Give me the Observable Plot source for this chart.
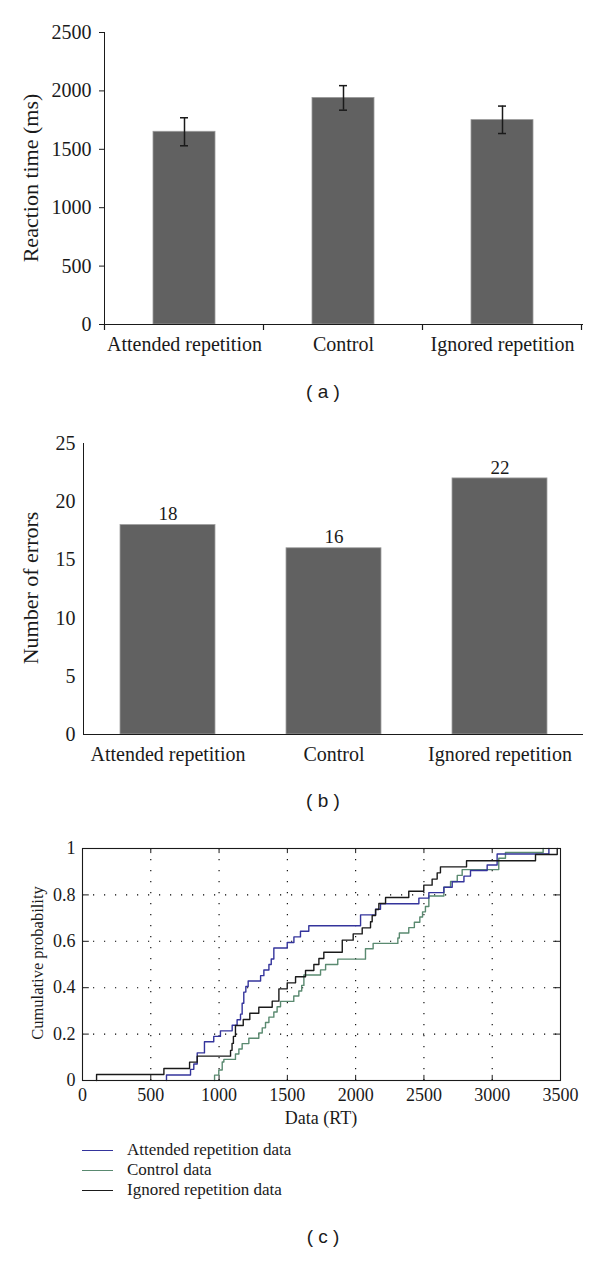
<!DOCTYPE html>
<html>
<head>
<meta charset="utf-8">
<script src="https://cdn.jsdelivr.net/npm/d3@7"></script>
<script src="https://cdn.jsdelivr.net/npm/@observablehq/plot@0.6"></script>
<style>
  html, body { margin: 0; padding: 0; background: #fff; }
  #root { position: relative; width: 600px; height: 1276px; background: #fff; color: #1a1a1a; font-family: "Liberation Serif", "DejaVu Serif", serif; }
  .rot { position: absolute; white-space: nowrap; transform: translate(-50%, -50%) rotate(-90deg); }
  .cap { position: absolute; transform: translate(-50%, -50%); font-family: "Liberation Sans", Arial, sans-serif; font-size: 19px; white-space: pre; }
  .leg { position: absolute; left: 82px; font-size: 17px; display: flex; align-items: center; height: 20px; }
  .leg span.sw { display: inline-block; width: 31px; height: 0; border-top: 1.4px solid; margin-right: 14px; }
</style>
</head>
<body>
<div id="root"></div>
<script>
// ---------- data ----------
const categories = ["Attended repetition", "Control", "Ignored repetition"];
const rtMean = [1650, 1940, 1750];
const rtLow  = [1530, 1835, 1635];
const rtHigh = [1770, 2045, 1870];
const rtTicks = [0, 500, 1000, 1500, 2000, 2500];

const errorCounts = [18, 16, 22];
const errTicks = [0, 5, 10, 15, 20, 25];

const cdfXTicks = [0, 500, 1000, 1500, 2000, 2500, 3000, 3500];
const cdfYTicks = [0, 0.2, 0.4, 0.6, 0.8, 1];
const seriesNames = ["Attended repetition data", "Control data", "Ignored repetition data"];
const seriesColors = ["#34349c", "#5a8a70", "#1a1a1a"];

// step points (RT, cumulative probability)
const attendedX = [615, 791, 815, 840, 893, 961, 1010, 1096, 1132, 1157, 1169, 1181, 1196, 1213, 1304, 1328, 1365, 1382, 1401, 1499, 1548, 1596, 1657, 2036, 2146, 2182, 2463, 2536, 2646, 2707, 2793, 2841, 2963, 3036, 3415];
const attendedY = [0.024, 0.048, 0.071, 0.119, 0.167, 0.19, 0.214, 0.238, 0.262, 0.286, 0.333, 0.381, 0.405, 0.429, 0.452, 0.476, 0.5, 0.524, 0.571, 0.595, 0.619, 0.643, 0.667, 0.714, 0.738, 0.762, 0.786, 0.81, 0.833, 0.857, 0.881, 0.905, 0.929, 0.976, 1.0];

const controlX = [967, 998, 1023, 1035, 1120, 1145, 1169, 1218, 1291, 1316, 1340, 1365, 1401, 1425, 1450, 1547, 1584, 1605, 1621, 1743, 1780, 1869, 2072, 2128, 2309, 2320, 2389, 2430, 2470, 2490, 2511, 2536, 2646, 2695, 2744, 2780, 3048, 3097, 3373];
const controlY = [0.023, 0.045, 0.08, 0.091, 0.114, 0.136, 0.159, 0.182, 0.205, 0.227, 0.25, 0.273, 0.295, 0.318, 0.341, 0.364, 0.386, 0.41, 0.455, 0.477, 0.5, 0.523, 0.568, 0.591, 0.614, 0.636, 0.659, 0.682, 0.705, 0.727, 0.75, 0.795, 0.833, 0.858, 0.884, 0.909, 0.958, 0.983, 1.0];

const ignoredX = [103, 596, 784, 840, 1084, 1095, 1105, 1120, 1177, 1225, 1291, 1389, 1438, 1499, 1560, 1633, 1694, 1731, 1767, 1902, 1982, 2048, 2109, 2121, 2146, 2170, 2219, 2389, 2499, 2560, 2597, 2621, 2812, 3317, 3476];
const ignoredY = [0.026, 0.052, 0.079, 0.105, 0.13, 0.16, 0.19, 0.237, 0.263, 0.29, 0.316, 0.342, 0.395, 0.421, 0.447, 0.474, 0.5, 0.526, 0.553, 0.605, 0.632, 0.658, 0.684, 0.711, 0.737, 0.763, 0.789, 0.816, 0.842, 0.868, 0.895, 0.921, 0.947, 0.974, 1.0];

// ---------- helpers ----------
const root = document.getElementById("root");
function place(el, top) { el.style.position = "absolute"; el.style.left = "0px"; el.style.top = top + "px"; root.appendChild(el); return el; }
function addDiv(cls, html, css) { const d = document.createElement("div"); d.className = cls; d.innerHTML = html; Object.assign(d.style, css); root.appendChild(d); return d; }

const barFill = "#616161";
const ink = "#1a1a1a";

// ---------- panel (a) ----------
const rtTable = categories.map((c, i) => ({cat: c, mean: rtMean[i], lo: rtLow[i], hi: rtHigh[i]}));
const chartA = Plot.plot({
  width: 600, height: 372,
  marginTop: 32, marginBottom: 48, marginLeft: 104, marginRight: 17,
  style: {fontFamily: "Liberation Serif, serif", fontSize: "20px", color: ink, background: "white", overflow: "visible"},
  x: {type: "band", domain: categories, paddingInner: 0.61, paddingOuter: 0.305, tickSize: 0, tickPadding: 12, label: null},
  y: {domain: [0, 2500], ticks: rtTicks, tickSize: 5, tickPadding: 8, line: true, label: null, tickFormat: d => String(d)},
  marks: [
    Plot.barY(rtTable, {x: "cat", y: "mean", fill: barFill, stroke: "#9a9a9a", strokeWidth: 0.8}),
    Plot.ruleX(rtTable, {x: "cat", y1: "lo", y2: "hi", stroke: ink, strokeWidth: 1.5}),
    Plot.tickY(rtTable, {x: "cat", y: "lo", stroke: ink, strokeWidth: 1.5, insetLeft: 27, insetRight: 27}),
    Plot.tickY(rtTable, {x: "cat", y: "hi", stroke: ink, strokeWidth: 1.5, insetLeft: 27, insetRight: 27}),
    Plot.ruleY([0], {stroke: ink, strokeWidth: 1.2})
  ]
});
place(chartA, 0);
// category boundary ticks below the x axis, from the band scale
{
  const sx = chartA.scale("x"), sy = chartA.scale("y");
  const y0 = sy.apply(0);
  const bounds = categories.map(c => sx.apply(c) + sx.bandwidth / 2 - sx.step / 2);
  bounds.push(bounds[bounds.length - 1] + sx.step);
  d3.select(chartA).append("g").selectAll("line").data(bounds).join("line")
    .attr("x1", d => d).attr("x2", d => d).attr("y1", y0).attr("y2", y0 + 6)
    .attr("stroke", ink).attr("stroke-width", 1.2);
}
addDiv("rot", "Reaction time (ms)", {left: "31px", top: "178px", fontSize: "22px"});
addDiv("cap", "( a )", {left: "323px", top: "392px"});

// ---------- panel (b) ----------
const errTable = categories.map((c, i) => ({cat: c, n: errorCounts[i]}));
const chartB = Plot.plot({
  width: 600, height: 370,
  marginTop: 23, marginBottom: 56, marginLeft: 83, marginRight: 17,
  style: {fontFamily: "Liberation Serif, serif", fontSize: "20px", color: ink, background: "white", overflow: "visible"},
  x: {type: "band", domain: categories, paddingInner: 0.43, paddingOuter: 0.215, tickSize: 0, tickPadding: 12, label: null},
  y: {domain: [0, 25], ticks: errTicks, tickSize: 0, tickPadding: 8, line: true, label: null},
  marks: [
    Plot.barY(errTable, {x: "cat", y: "n", fill: barFill, stroke: "#a0a0a0", strokeWidth: 0.8}),
    Plot.text(errTable, {x: "cat", y: "n", text: d => String(d.n), dy: -11, fontSize: 19, fill: ink}),
    Plot.ruleY([0], {stroke: ink, strokeWidth: 1.2})
  ]
});
place(chartB, 420);
addDiv("rot", "Number of errors", {left: "31px", top: "588px", fontSize: "22px"});
addDiv("cap", "( b )", {left: "323px", top: "801px"});

// ---------- panel (c) ----------
const cdfTable = [];
[[attendedX, attendedY], [controlX, controlY], [ignoredX, ignoredY]].forEach(([xs, ys], k) => {
  cdfTable.push({s: seriesNames[k], rt: xs[0], p: 0});
  xs.forEach((x, i) => cdfTable.push({s: seriesNames[k], rt: x, p: ys[i]}));
});
const drawOrder = [seriesNames[1], seriesNames[0], seriesNames[2]];
const innerX = cdfXTicks.slice(1, -1), innerY = cdfYTicks.slice(1, -1);
const chartC = Plot.plot({
  width: 600, height: 300,
  marginTop: 18, marginBottom: 50, marginLeft: 82, marginRight: 40,
  style: {fontFamily: "Liberation Serif, serif", fontSize: "18px", color: ink, background: "white", overflow: "visible"},
  x: {domain: [0, 3500], ticks: cdfXTicks, tickSize: 0, tickPadding: 8, label: null, tickFormat: d => String(d)},
  y: {domain: [0, 1], ticks: cdfYTicks, tickSize: 0, tickPadding: 7, label: null, tickFormat: d => String(d)},
  color: {domain: seriesNames, range: seriesColors},
  marks: [
    Plot.ruleX(innerX, {x: d => d, stroke: "#000", strokeWidth: 1.1, strokeDasharray: "1.2,9.8"}),
    Plot.ruleY(innerY, {y: d => d, stroke: "#000", strokeWidth: 1.1, strokeDasharray: "1.2,9.8"}),
    Plot.ruleX(innerX, {x: d => d, y1: 0, y2: 0.022, stroke: ink}),
    Plot.ruleX(innerX, {x: d => d, y1: 0.978, y2: 1, stroke: ink}),
    Plot.ruleY(innerY, {y: d => d, x1: 0, x2: 50, stroke: ink}),
    Plot.ruleY(innerY, {y: d => d, x1: 3450, x2: 3500, stroke: ink}),
    ...drawOrder.map(name => Plot.line(cdfTable.filter(d => d.s === name), {x: "rt", y: "p", stroke: "s", curve: "step-after", strokeWidth: 1.4})),
    Plot.frame({stroke: ink, strokeWidth: 1.1})
  ]
});
place(chartC, 830);
addDiv("rot", "Cumulative probability", {left: "38px", top: "963px", fontSize: "16.5px"});
addDiv("cap", "Data (RT)", {left: "321px", top: "1118px", fontFamily: "Liberation Serif, serif", fontSize: "18px"});
seriesNames.forEach((name, i) => {
  addDiv("leg", `<span class="sw" style="border-top-color:${seriesColors[i]}"></span>${name}`, {top: (1140 + i * 20) + "px"});
});
addDiv("cap", "( c )", {left: "323px", top: "1237px"});
</script>
</body>
</html>
